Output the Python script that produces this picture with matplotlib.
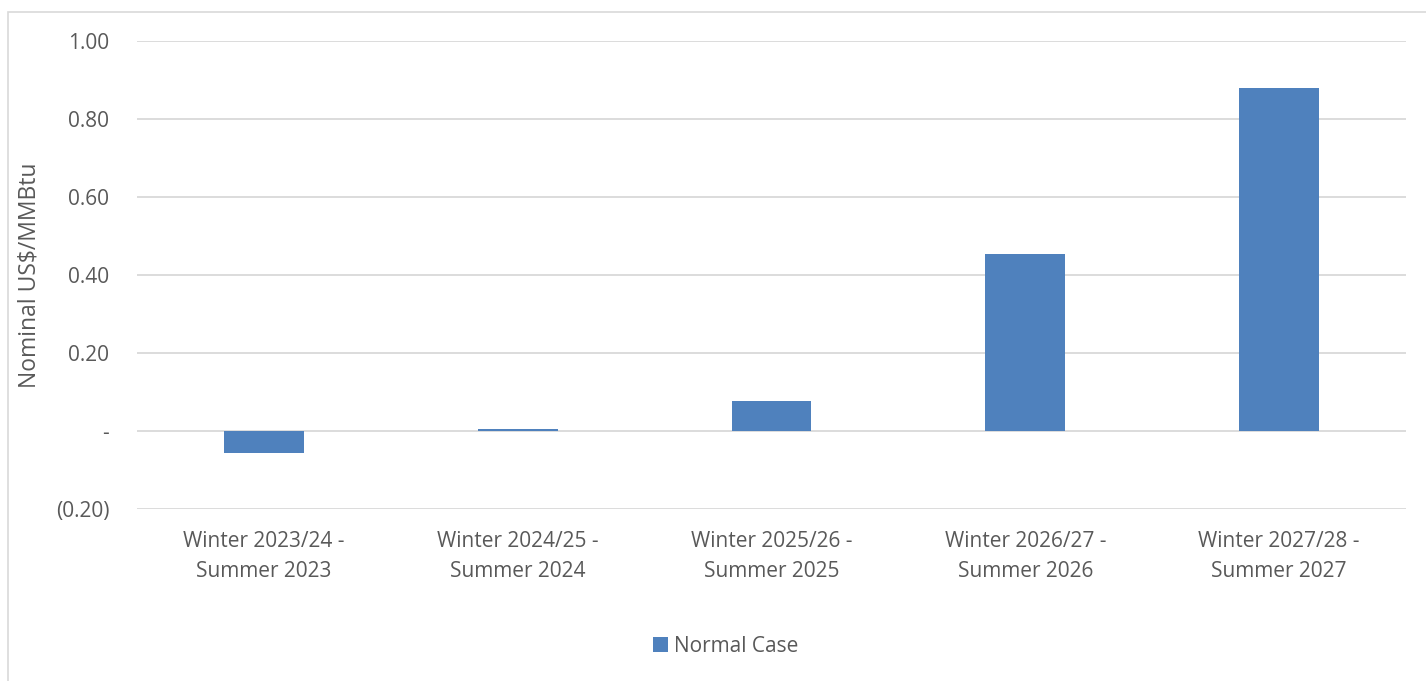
import matplotlib
matplotlib.use("Agg")
import matplotlib.pyplot as plt
from matplotlib.patches import Rectangle

# data
periods = ["Winter 2023/24 -\nSummer 2023", "Winter 2024/25 -\nSummer 2024",
           "Winter 2025/26 -\nSummer 2025", "Winter 2026/27 -\nSummer 2026",
           "Winter 2027/28 -\nSummer 2027"]
normal_case = [-0.056, 0.004, 0.077, 0.454, 0.879]
y_ticks = [-0.2, 0.0, 0.2, 0.4, 0.6, 0.8, 1.0]
y_tick_labels = ["(0.20)", "-", "0.20", "0.40", "0.60", "0.80", "1.00"]

BLUE = "#4F81BD"
TXT = "#595959"
GRID = "#D9D9D9"
FS = 15

plt.rcParams['font.family'] = ['Open Sans', 'DejaVu Sans']

fig = plt.figure(figsize=(14.26, 6.81), dpi=100)
ax = fig.add_axes([137/1426, 1 - 509/681, (1406-137)/1426, (509-41)/681])

# light frame around the whole chart (cropped on right/bottom)
fig.patches.append(Rectangle((8/1426, -0.1), 1.2, 1 - 12/681 + 0.1,
                             transform=fig.transFigure, fill=False,
                             edgecolor=GRID, linewidth=1.2))

x = range(len(periods))
ax.bar(x, normal_case, width=0.315, color=BLUE, label="Normal Case", zorder=3)

ax.set_xlim(-0.5, len(periods) - 0.5)
ax.set_ylim(-0.2, 1.0)
ax.set_yticks(y_ticks)
ax.set_yticklabels(y_tick_labels)
ax.set_xticks(list(x))
ax.set_xticklabels(periods, linespacing=1.55)
ax.yaxis.grid(True, color=GRID, linewidth=1.3, zorder=0)
for s in ax.spines.values():
    s.set_visible(False)
ax.tick_params(axis='both', length=0, colors=TXT, labelsize=FS)
ax.tick_params(axis='y', pad=20)
ax.tick_params(axis='x', pad=16)

fig.text(30/1426, 1 - 275/681, "Nominal US$/MMBtu", rotation=90, color=TXT,
         fontsize=16.5, ha="center", va="center")

fig.legend(loc="center", bbox_to_anchor=(726/1426, 1 - 646/681), frameon=False,
           fontsize=FS, labelcolor=TXT, handlelength=0.7, handleheight=0.7,
           handletextpad=0.3)

fig.savefig("out.png", dpi=100)
